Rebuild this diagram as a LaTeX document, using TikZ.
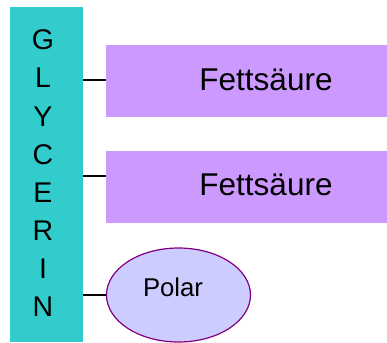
\documentclass[tikz,border=0pt]{standalone}
\usepackage{fontspec}
\setmainfont{Liberation Sans}
\usetikzlibrary{shapes.geometric}
\definecolor{teal1}{HTML}{33CCCC}
\definecolor{lilac}{HTML}{CC99FF}
\definecolor{periw}{HTML}{CCCCFF}
\definecolor{plum}{HTML}{800080}
\begin{document}
\begin{tikzpicture}[x=1pt,y=-1pt,
  fabox/.style={fill=lilac,draw=none,minimum width=281pt,minimum height=71.5pt,inner sep=0pt,font=\fontsize{31.5}{36}\selectfont},
  letter/.style={font=\fontsize{28.5}{32}\selectfont,inner sep=0pt},
  conn/.style={line width=1.4pt,black}]
\useasboundingbox (0,0) rectangle (387,342);
\fill[teal1] (10,7) rectangle (83,342);
\foreach \l [count=\i from 0] in {G,L,Y,C,E,R,I,N}{
  \node[letter] (l\i) at (43,{40+38.1*\i}) {\l};
}
\node[fabox] (fa1) at (246.5,81) {};
\node[fabox] (fa2) at (246.5,187) {};
\node[font=\fontsize{31.5}{36}\selectfont,inner sep=0pt] (t1) at (266,80) {Fettsäure};
\node[font=\fontsize{31.5}{36}\selectfont,inner sep=0pt] (t2) at (266,185) {Fettsäure};
\node[ellipse,draw=plum,line width=1.2pt,fill=periw,minimum width=144pt,minimum height=94pt,inner sep=0pt] (pol) at (178.5,295) {};
\node[font=\fontsize{25.7}{30}\selectfont,inner sep=0pt] (pt) at (173,287) {Polar};
\coordinate (b1) at (83,80);
\coordinate (b2) at (83,176);
\coordinate (b3) at (83,295);
\draw[conn] (b1) -- (fa1.west |- b1);
\draw[conn] (b2) -- (fa2.west |- b2);
\draw[conn] (b3) -- (pol.west);
\end{tikzpicture}
\end{document}
